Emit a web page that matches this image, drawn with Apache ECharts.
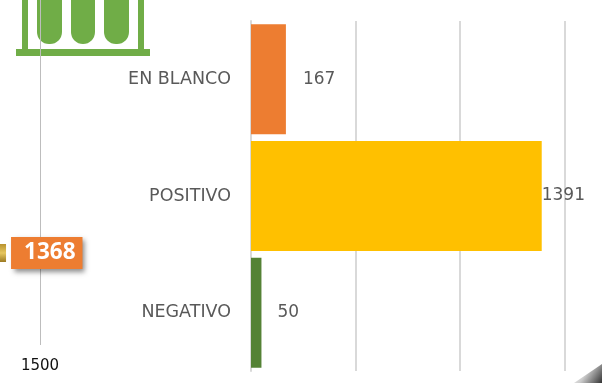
<!DOCTYPE html>
<html><head><meta charset="utf-8">
<style>html,body{margin:0;padding:0;background:#fff}#c{width:602px;height:383px}</style>
<script src="https://cdn.jsdelivr.net/npm/echarts@6/dist/echarts.min.js"></script></head>
<body><div id="c"></div>
<script>
var categories = ['NEGATIVO', 'POSITIVO', 'EN BLANCO'];
var values = [50, 1391, 167];
var barColors = ['#548235', '#FFC000', '#ED7D31'];
var labelGaps = [16, 0, 17];
var totalCategory = ['TOTAL', ''];
var totalValues = [1368, null];
var sans = '"DejaVu Sans", sans-serif';
var chart = echarts.init(document.getElementById('c'), null, {renderer: 'canvas'});
chart.setOption({
  animation: false,
  backgroundColor: '#fff',
  grid: [
    {left: 251, top: 21, width: 313.5, height: 350, outerBoundsMode: 'none'},
    {left: -346, top: -23, width: 386, height: 368, outerBoundsMode: 'none'}
  ],
  xAxis: [
    {gridIndex: 0, type: 'value', min: 0, max: 1500, interval: 500,
     axisLabel: {show: false}, axisLine: {show: false}, axisTick: {show: false},
     splitLine: {show: true, lineStyle: {color: '#D9D9D9', width: 2}}},
    {gridIndex: 1, type: 'value', min: 0, max: 1500, interval: 1500,
     axisLine: {show: false}, axisTick: {show: false},
     axisLabel: {show: true, color: '#111', fontSize: 15, fontFamily: sans, margin: 14,
       formatter: function (v) { return v === 1500 ? String(v) : ''; }},
     splitLine: {show: true, showMinLine: false, showMaxLine: true, lineStyle: {color: '#BDBDBD', width: 1}}}
  ],
  yAxis: [
    {gridIndex: 0, type: 'category', data: categories,
     axisLine: {show: true, lineStyle: {color: '#D9D9D9', width: 2}}, axisTick: {show: false},
     axisLabel: {color: '#595959', fontSize: 17.5, fontFamily: sans, margin: 20}},
    {gridIndex: 1, type: 'category', data: totalCategory, show: false}
  ],
  series: [
    {type: 'bar', xAxisIndex: 0, yAxisIndex: 0, barWidth: 110,
     data: values.map(function (v, i) {
       return {value: v, itemStyle: {color: barColors[i]},
         label: {show: true, position: 'right', distance: labelGaps[i], color: '#595959', fontSize: 17, fontFamily: sans}};
     })},
    {type: 'bar', xAxisIndex: 1, yAxisIndex: 1, barWidth: 18,
     data: totalValues,
     itemStyle: {color: new echarts.graphic.LinearGradient(0, 0, 0, 1, [
       {offset: 0, color: '#B8922E'}, {offset: 0.5, color: '#E6C65E'}, {offset: 1, color: '#9C7A22'}])},
     label: {show: true, position: 'right', distance: 5, color: '#fff', fontSize: 22.5, fontWeight: 'bold',
       fontFamily: '"Open Sans", sans-serif', backgroundColor: '#ED7D31', padding: [4, 7, 5, 13],
       shadowColor: 'rgba(0,0,0,0.45)', shadowBlur: 5, shadowOffsetX: 3, shadowOffsetY: 3}}
  ],
  graphic: [
    {type: 'group', silent: true, children: [
      {type: 'rect', shape: {x: 22, y: -5, width: 6, height: 55}, style: {fill: '#70AD47'}},
      {type: 'rect', shape: {x: 138, y: -5, width: 6, height: 55}, style: {fill: '#70AD47'}},
      {type: 'rect', shape: {x: 16, y: 49, width: 134, height: 7}, style: {fill: '#70AD47'}},
      {type: 'rect', shape: {x: 37, y: -5, width: 25, height: 49, r: [0, 0, 12, 12]}, style: {fill: '#70AD47'}},
      {type: 'rect', shape: {x: 71, y: -5, width: 24, height: 49, r: [0, 0, 12, 12]}, style: {fill: '#70AD47'}},
      {type: 'rect', shape: {x: 104, y: -5, width: 25, height: 49, r: [0, 0, 12, 12]}, style: {fill: '#70AD47'}}
    ]},
    {type: 'polygon', silent: true, shape: {points: [[602, 364], [602, 383], [574, 383]]},
     style: {fill: new echarts.graphic.LinearGradient(1, 1, 0, 0, [{offset: 0, color: '#333'}, {offset: 0.55, color: '#ccc'}, {offset: 1, color: '#fff'}])}}
  ]
});
</script></body></html>
